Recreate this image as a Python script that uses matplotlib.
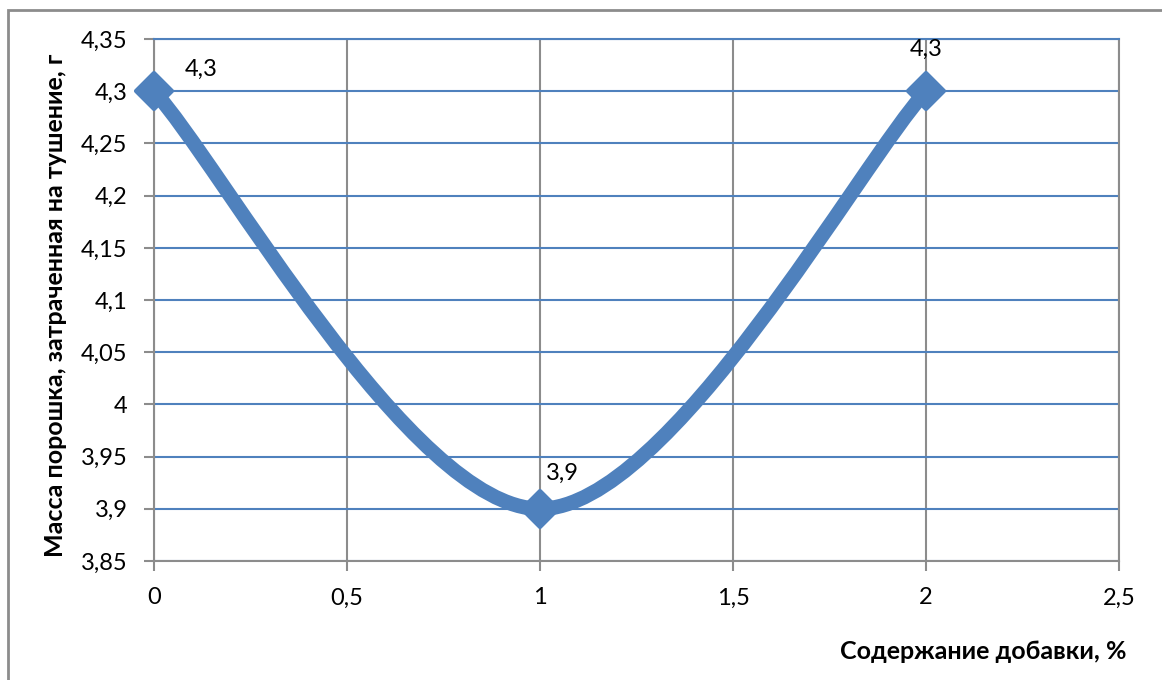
import matplotlib.pyplot as plt
from matplotlib.path import Path
from matplotlib.patches import PathPatch, Rectangle
from matplotlib.markers import MarkerStyle

plt.rcParams['font.family'] = ['Lato', 'DejaVu Sans']

# содержание добавки, % и масса порошка, г
dobavka = [0, 1, 2]
massa = [4.3, 3.9, 4.3]
podpisi = ['4,3', '3,9', '4,3']

xticks = [0, 0.5, 1, 1.5, 2, 2.5]
xlabels = ['0', '0,5', '1', '1,5', '2', '2,5']
yticks = [3.85, 3.9, 3.95, 4.0, 4.05, 4.1, 4.15, 4.2, 4.25, 4.3, 4.35]
ylabels = ['3,85', '3,9', '3,95', '4', '4,05', '4,1', '4,15', '4,2', '4,25', '4,3', '4,35']

blue = '#4F81BD'
grey = '#8C8C8C'

fig = plt.figure(figsize=(11.62, 6.80), dpi=100)
ax = fig.add_axes([0.1325, 0.175, 0.8305, 0.7675])

# сглаженная линия (кривые Безье, как в Excel)
pts = list(zip(dobavka, massa))
verts = [pts[0]]
codes = [Path.MOVETO]
for i in range(len(pts) - 1):
    p0 = pts[i - 1] if i > 0 else pts[i]
    p1 = pts[i]
    p2 = pts[i + 1]
    p3 = pts[i + 2] if i + 2 < len(pts) else pts[i + 1]
    c1 = (p1[0] + (p2[0] - p0[0]) / 6, p1[1] + (p2[1] - p0[1]) / 6)
    c2 = (p2[0] - (p3[0] - p1[0]) / 6, p2[1] - (p3[1] - p1[1]) / 6)
    verts += [c1, c2, p2]
    codes += [Path.CURVE4] * 3
ax.add_patch(PathPatch(Path(verts, codes), fill=False, edgecolor=blue,
                       lw=10.5, capstyle='round', joinstyle='round', zorder=3))

romb = MarkerStyle('D', joinstyle='round')
ax.plot(dobavka, massa, ls='none', marker=romb, ms=18, mfc=blue, mec=blue,
        mew=3, zorder=4, clip_on=False)

# подписи значений
offsets = [(22, 8), (4, 18), (0, 23)]
has = ['left', 'left', 'center']
for x, y, s, off, ha in zip(dobavka, massa, podpisi, offsets, has):
    ax.annotate(s, (x, y), xytext=off, textcoords='offset points',
                ha=ha, va='bottom', fontsize=17, zorder=5)

ax.set_xlim(0, 2.5)
ax.set_ylim(3.85, 4.35)
ax.set_xticks(xticks, xlabels, fontsize=17)
ax.set_yticks(yticks, ylabels, fontsize=17)
ax.tick_params(axis='both', color=grey, length=7, width=1.5)
ax.tick_params(axis='x', pad=12)
ax.tick_params(axis='y', pad=12)

ax.grid(axis='y', color=blue, lw=1.5, zorder=1)
ax.grid(axis='x', color=grey, lw=1.5, zorder=1)
ax.set_axisbelow(True)
for side in ['left', 'bottom', 'right']:
    ax.spines[side].set_color(grey)
    ax.spines[side].set_linewidth(1.5)
ax.spines['top'].set_color(blue)
ax.spines['top'].set_linewidth(1.5)

ax.set_xlabel('Содержание добавки, %', fontsize=18, fontweight='bold')
ax.xaxis.set_label_coords(1.008, -0.152)
ax.xaxis.label.set_ha('right')
ax.set_ylabel('Масса порошка, затраченная на тушение, г', fontsize=18,
              fontweight='bold')
ax.yaxis.set_label_coords(-0.09, 0.49)

# рамка вокруг диаграммы
fig.patches.append(Rectangle((8 / 1162, -0.1), 1.2, 1 - 10 / 680 + 0.1,
                             transform=fig.transFigure, fill=False,
                             edgecolor=grey, lw=2))

fig.savefig('out.png', dpi=100)
